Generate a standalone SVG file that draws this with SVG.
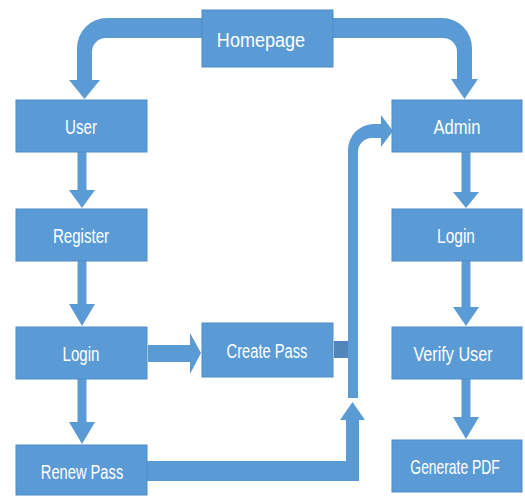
<svg xmlns="http://www.w3.org/2000/svg" width="525" height="496" viewBox="0 0 525 496">
<style>
.box{fill:#5B9BD5;stroke:#4F8CC6;stroke-width:1}
.lbl{fill:#FFFFFF;font-family:"Liberation Sans",Arial,sans-serif;font-size:21px;text-anchor:middle}
.conn{fill:#5B9BD5}
.stub{fill:#4F87BB}
</style>
<rect width="525" height="496" fill="#FFFFFF"/>
<g id="connectors">
<path class="conn" d="M 202 18 H 107 A 30 30 0 0 0 77 48 V 80 H 69 L 84.5 99 L 100 80 H 92 V 52 A 14 14 0 0 1 106 38 H 202 Z"/>
<path class="conn" d="M 333 18 H 442 A 30 30 0 0 1 472 48 V 79 H 478 L 464.5 99 L 451 79 H 457 V 52 A 14 14 0 0 0 443 38 H 333 Z"/>
<path class="conn" d="M 348 398 V 150 A 26 26 0 0 1 374 124 H 381 V 115 L 393 131 L 381 147 V 138 H 372 A 14 14 0 0 0 358 152 V 398 Z"/>
<path class="conn" d="M 147 461 H 346 V 420 H 340 L 352.5 402 L 365 420 H 359 V 481 H 147 Z"/>
<path class="conn" d="M 148 345 H 190 V 333 L 201 353 L 190 374 V 362 H 148 Z"/>
<rect class="stub" x="334" y="341" width="14" height="17"/>
<path class="conn" d="M 77.5 152 H 86.5 V 190 H 95 L 82 208 L 69 190 H 77.5 Z"/>
<path class="conn" d="M 77.5 261 H 86.5 V 304 H 95 L 82 326 L 69 304 H 77.5 Z"/>
<path class="conn" d="M 77.5 379 H 86.5 V 422 H 95 L 82 444 L 69 422 H 77.5 Z"/>
<path class="conn" d="M 461.5 152 H 470.5 V 192 H 479 L 466 208 L 453 192 H 461.5 Z"/>
<path class="conn" d="M 461.5 261 H 470.5 V 307 H 479 L 466 326 L 453 307 H 461.5 Z"/>
<path class="conn" d="M 461.5 379 H 470.5 V 417 H 479 L 466 439 L 453 417 H 461.5 Z"/>
</g>
<g id="homepage"><rect class="box" x="202" y="10" width="131" height="57"/><text class="lbl" transform="translate(261 47) scale(0.86 1)">Homepage</text></g>
<g id="user"><rect class="box" x="16" y="100" width="131" height="52"/><text class="lbl" transform="translate(81 134) scale(0.72 1)">User</text></g>
<g id="register"><rect class="box" x="16" y="209" width="131" height="52"/><text class="lbl" transform="translate(81 243) scale(0.72 1)">Register</text></g>
<g id="user-login"><rect class="box" x="16" y="327" width="131" height="52"/><text class="lbl" transform="translate(81 361) scale(0.72 1)">Login</text></g>
<g id="renew-pass"><rect class="box" x="16" y="445" width="131" height="50"/><text class="lbl" transform="translate(82 479) scale(0.7 1)">Renew Pass</text></g>
<g id="create-pass"><rect class="box" x="202" y="323" width="131" height="54"/><text class="lbl" transform="translate(267 358) scale(0.7 1)">Create Pass</text></g>
<g id="admin"><rect class="box" x="392" y="100" width="130" height="52"/><text class="lbl" transform="translate(457 134) scale(0.79 1)">Admin</text></g>
<g id="admin-login"><rect class="box" x="392" y="209" width="130" height="52"/><text class="lbl" transform="translate(456 243) scale(0.74 1)">Login</text></g>
<g id="verify-user"><rect class="box" x="392" y="327" width="130" height="52"/><text class="lbl" transform="translate(453 361) scale(0.77 1)">Verify User</text></g>
<g id="generate-pdf"><rect class="box" x="392" y="440" width="130" height="52"/><text class="lbl" transform="translate(455 474) scale(0.66 1)">Generate PDF</text></g>
</svg>
